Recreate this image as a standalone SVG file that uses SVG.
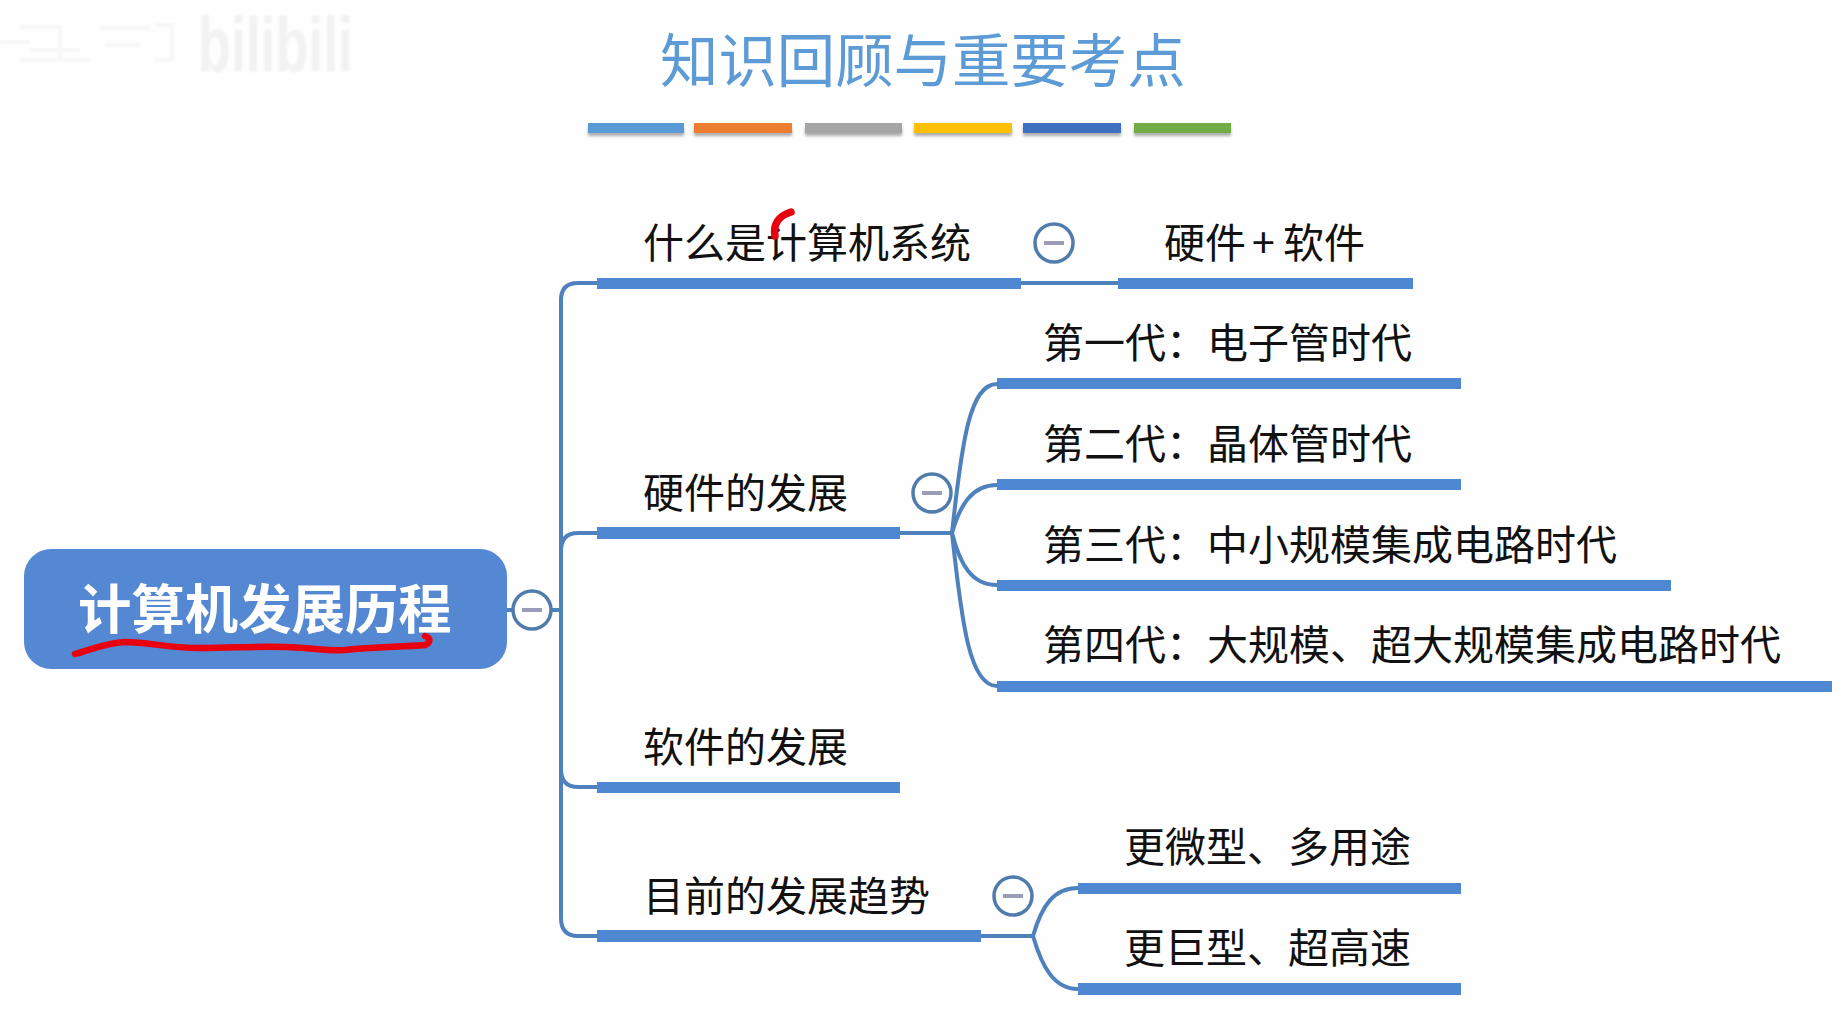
<svg xmlns="http://www.w3.org/2000/svg" width="1840" height="1018" viewBox="0 0 1840 1018">
<defs>
<filter id="sh" x="-10%" y="-50%" width="120%" height="250%"><feGaussianBlur stdDeviation="1.6"/></filter>
<filter id="soft" x="-5%" y="-20%" width="110%" height="140%"><feGaussianBlur stdDeviation="0.5"/></filter>
<filter id="wm" x="-5%" y="-20%" width="110%" height="140%"><feGaussianBlur stdDeviation="1.2"/></filter>
</defs>
<style>
text{font-family:"Noto Sans CJK SC","Microsoft YaHei",sans-serif}
.t{font-size:41px;fill:#111}
.bar{fill:#4f88d2}
.conn{fill:none;stroke:#4f81bd;stroke-width:4}
.ring{fill:#fff;stroke:#4f7cac;stroke-width:3.5}
.minus{stroke:#9a9cb8;stroke-width:4}
.ink{fill:none;stroke:#e8000f;stroke-linecap:round;stroke-linejoin:round}
</style>
<rect width="1840" height="1018" fill="#fefefe"/>
<g id="watermark" filter="url(#wm)">
<text x="198" y="72" font-size="78" font-weight="700" style="font-family:'Liberation Sans',sans-serif" fill="#f2f2f2" textLength="155" lengthAdjust="spacingAndGlyphs">bilibili</text>
<path d="M0 42H30M20 27H60M30 50H80M60 25V62M100 28H150M105 45H140M155 25H172V60H155M20 60H90" fill="none" stroke="#f7f7f7" stroke-width="4"/>
</g>
<g id="title">
<text x="660" y="82" font-size="58.4" fill="#5b9bd5" filter="url(#soft)">知识回顾与重要考点</text>
</g>
<g id="title-rule">
<g fill="#888" opacity=".7" filter="url(#sh)">
<rect x="588" y="127" width="96" height="9"/><rect x="694" y="127" width="98" height="9"/><rect x="805" y="127" width="97" height="9"/><rect x="914" y="127" width="98" height="9"/><rect x="1023" y="127" width="98" height="9"/><rect x="1134" y="127" width="97" height="9"/>
</g>
<rect x="588" y="123" width="96" height="10" fill="#5b9bd5"/>
<rect x="694" y="123" width="98" height="10" fill="#ed7d31"/>
<rect x="805" y="123" width="97" height="10" fill="#a5a5a5"/>
<rect x="914" y="123" width="98" height="10" fill="#ffc000"/>
<rect x="1023" y="123" width="98" height="10" fill="#3f6fbf"/>
<rect x="1134" y="123" width="97" height="10" fill="#70ad47"/>
</g>
<g id="connectors">
<path class="conn" d="M507 610H513M551 610H560"/>
<path class="conn" d="M597 283H578Q561 283 561 300V918Q561 936 578 936H597"/>
<path class="conn" d="M561 551Q561 533 578 533H597M561 769Q561 787 578 787H597"/>
<path class="conn" d="M1021 283H1118"/>
<path class="conn" d="M900 533H952"/>
<path class="conn" d="M952 533C962 440 970 384 997 384"/>
<path class="conn" d="M952 533C960 505 972 485 997 485"/>
<path class="conn" d="M952 533C960 565 972 585 997 585"/>
<path class="conn" d="M952 533C962 626 970 686 997 686"/>
<path class="conn" d="M981 936H1033"/>
<path class="conn" d="M1033 936C1042 905 1054 888 1078 888"/>
<path class="conn" d="M1033 936C1042 967 1054 989 1078 989"/>
</g>
<g id="root">
<rect x="24" y="549" width="483" height="120" rx="27" fill="#5588d2"/>
<text x="78" y="629" font-size="53.4" font-weight="700" fill="#fff">计算机发展历程</text>
<circle class="ring" cx="532" cy="610" r="19"/><path class="minus" d="M522 610H542"/>
</g>
<g id="node-what">
<text class="t" x="643" y="258">什么是计算机系统</text>
<rect class="bar" x="597" y="278" width="424" height="11"/>
<circle class="ring" cx="1054" cy="243" r="19"/><path class="minus" d="M1044 243H1064"/>
</g>
<g id="node-hwsw">
<text class="t" y="258"><tspan x="1164">硬件</tspan><tspan x="1252">+</tspan><tspan x="1283">软件</tspan></text>
<rect class="bar" x="1118" y="278" width="295" height="11"/>
</g>
<g id="node-gen1">
<text class="t" x="1043" y="358">第一代：电子管时代</text>
<rect class="bar" x="997" y="378" width="464" height="11"/>
</g>
<g id="node-gen2">
<text class="t" x="1043" y="459">第二代：晶体管时代</text>
<rect class="bar" x="997" y="479" width="464" height="11"/>
</g>
<g id="node-hw">
<text class="t" x="643" y="508">硬件的发展</text>
<rect class="bar" x="597" y="527" width="303" height="12"/>
<circle class="ring" cx="932" cy="493" r="19"/><path class="minus" d="M922 493H942"/>
</g>
<g id="node-gen3">
<text class="t" x="1043" y="560">第三代：中小规模集成电路时代</text>
<rect class="bar" x="997" y="580" width="674" height="11"/>
</g>
<g id="node-gen4">
<text class="t" x="1043" y="660">第四代：大规模、超大规模集成电路时代</text>
<rect class="bar" x="997" y="681" width="835" height="11"/>
</g>
<g id="node-sw">
<text class="t" x="643" y="762">软件的发展</text>
<rect class="bar" x="597" y="782" width="303" height="11"/>
</g>
<g id="node-micro">
<text class="t" x="1124" y="862">更微型、多用途</text>
<rect class="bar" x="1078" y="883" width="383" height="11"/>
</g>
<g id="node-trend">
<text class="t" x="643" y="911">目前的发展趋势</text>
<rect class="bar" x="597" y="930" width="384" height="12"/>
<circle class="ring" cx="1013" cy="896" r="19"/><path class="minus" d="M1003 896H1023"/>
</g>
<g id="node-giant">
<text class="t" x="1124" y="963">更巨型、超高速</text>
<rect class="bar" x="1078" y="983" width="383" height="12"/>
</g>
<g id="annotations">
<path class="ink" stroke-width="6.5" d="M75 654C90 650 105 643 125 642C150 642 165 648 200 648C235 648 255 646 285 647C315 648 325 651 345 650C375 647 400 647 425 645C431 642 431 638 425 636"/>
<path class="ink" stroke-width="7.5" d="M775 236C773 225 778 216 791 212"/>
</g>
</svg>
